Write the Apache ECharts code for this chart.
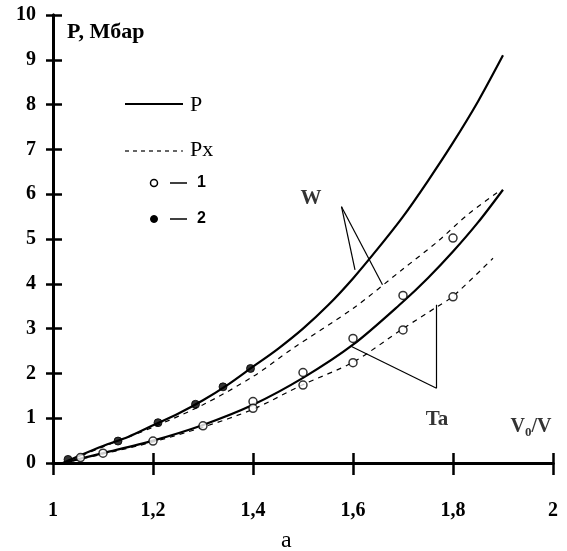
<!DOCTYPE html>
<html>
<head>
<meta charset="utf-8">
<script src="https://cdn.jsdelivr.net/npm/echarts@6/dist/echarts.min.js"></script>
<style>
  html, body { margin: 0; padding: 0; background: #fff; }
  #chart { width: 567px; height: 551px; }
</style>
</head>
<body>
<div id="chart"></div>
<script>
// Pressure P (Mbar) versus compression V0/V for W and Ta
const xTicks = [1, 1.2, 1.4, 1.6, 1.8, 2];
const yTicks = [0, 1, 2, 3, 4, 5, 6, 7, 8, 9, 10];

// W: total pressure P (solid) and cold pressure Px (dashed)
const wP  = [[1.02,0],[1.05,0.15],[1.1,0.38],[1.15,0.58],[1.2,0.84],[1.25,1.1],[1.3,1.4],[1.35,1.75],[1.4,2.15],[1.45,2.55],[1.5,3.0],[1.55,3.52],[1.6,4.12],[1.65,4.79],[1.7,5.5],[1.75,6.3],[1.8,7.15],[1.85,8.07],[1.9,9.1]];
const wPx = [[1.02,0],[1.1,0.36],[1.2,0.8],[1.3,1.3],[1.4,1.93],[1.48,2.56],[1.6,3.45],[1.7,4.33],[1.77,4.95],[1.83,5.55],[1.89,6.05]];
// Ta: total pressure P (solid) and cold pressure Px (dashed)
const taP  = [[1.02,0],[1.1,0.22],[1.2,0.5],[1.3,0.85],[1.4,1.3],[1.5,1.9],[1.6,2.64],[1.7,3.6],[1.75,4.13],[1.8,4.72],[1.85,5.37],[1.9,6.1]];
const taPx = [[1.02,0],[1.1,0.2],[1.2,0.47],[1.3,0.8],[1.4,1.2],[1.5,1.75],[1.6,2.25],[1.7,3.0],[1.77,3.5],[1.8,3.72],[1.88,4.57]];

// Experimental points: 1 (open), 2 (filled)
const points1 = [[1.055,0.12],[1.1,0.22],[1.2,0.49],[1.3,0.83],[1.4,1.37],[1.4,1.22],[1.5,2.02],[1.5,1.74],[1.6,2.78],[1.6,2.24],[1.7,3.74],[1.7,2.97],[1.8,5.02],[1.8,3.71]];
const points2 = [[1.03,0.08],[1.13,0.49],[1.21,0.9],[1.285,1.31],[1.34,1.7],[1.395,2.11]];

// Leader lines from the material labels to their curves
const wLeaders  = [[[1.577,5.72],[1.604,4.31]], [[1.577,5.72],[1.659,3.98]]];
const taLeaders = [[[1.767,1.67],[1.597,2.6]], [[1.767,1.67],[1.767,3.53]]];

// Text labels placed in data space
const curveLabels = [
  { name: 'W',  value: [1.516, 5.9] },
  { name: 'Ta', value: [1.768, 0.98] }
];
const axisName = { value: [1.956, 0.8] };

const serif = '"Liberation Serif", "DejaVu Serif", serif';
const sans = '"Liberation Sans", Arial, sans-serif';

const chart = echarts.init(document.getElementById('chart'), null, { renderer: 'canvas' });

const tickLine = { color: '#000', width: 2.5 };

function leaderSeries(seg) {
  return {
    type: 'line', data: seg, symbol: 'none', silent: true,
    lineStyle: { color: '#000', width: 1.2 }, z: 3
  };
}

function legendText(text, x, y, font) {
  return { type: 'text', x: x, y: y,
    style: { text: text, fill: '#000', font: font, textVerticalAlign: 'middle', verticalAlign: 'middle' } };
}

const option = {
  animation: false,
  backgroundColor: '#fff',
  grid: { left: 53, right: 14, top: 15, bottom: 88, containLabel: false },
  xAxis: [
    {
      type: 'value', min: 1, max: 2, interval: 0.2,
      axisLine: { show: true, onZero: false, lineStyle: { color: '#000', width: 3 } },
      axisTick: { show: true, inside: true, length: 10, lineStyle: tickLine },
      splitLine: { show: false },
      axisLabel: {
        margin: 38, color: '#000', fontFamily: serif, fontWeight: 'bold', fontSize: 20,
        formatter: v => xTicks.includes(+v.toFixed(1)) ? String(+v.toFixed(1)).replace('.', ',') : ''
      }
    },
    {
      type: 'value', min: 1, max: 2, interval: 0.2, position: 'bottom',
      axisLine: { show: true, onZero: false, lineStyle: { color: '#000', width: 3 } },
      axisTick: { show: true, inside: false, length: 12, lineStyle: tickLine },
      axisLabel: { show: false }, splitLine: { show: false }
    }
  ],
  yAxis: [
    {
      type: 'value', min: 0, max: 10, interval: 1,
      axisLine: { show: true, onZero: false, lineStyle: { color: '#000', width: 3 } },
      axisTick: { show: true, inside: true, length: 9, lineStyle: tickLine },
      splitLine: { show: false },
      axisLabel: {
        margin: 17, color: '#000', fontFamily: serif, fontWeight: 'bold', fontSize: 20,
        formatter: v => yTicks.includes(v) ? String(v) : ''
      }
    },
    {
      type: 'value', min: 0, max: 10, interval: 1, position: 'left',
      axisLine: { show: true, onZero: false, lineStyle: { color: '#000', width: 3 } },
      axisTick: { show: true, inside: false, length: 7, lineStyle: tickLine },
      axisLabel: { show: false }, splitLine: { show: false }
    }
  ],
  series: [
    { name: 'W P', type: 'line', data: wP, smooth: 0.3, symbol: 'none',
      lineStyle: { color: '#000', width: 2.2 }, z: 4 },
    { name: 'W Px', type: 'line', data: wPx, smooth: 0.3, symbol: 'none',
      lineStyle: { color: '#000', width: 1.2, type: [5, 5] }, z: 4 },
    { name: 'Ta P', type: 'line', data: taP, smooth: 0.3, symbol: 'none',
      lineStyle: { color: '#000', width: 2.2 }, z: 4 },
    { name: 'Ta Px', type: 'line', data: taPx, smooth: 0.3, symbol: 'none',
      lineStyle: { color: '#000', width: 1.2, type: [5, 5] }, z: 4 },
    leaderSeries(wLeaders[0]), leaderSeries(wLeaders[1]),
    leaderSeries(taLeaders[0]), leaderSeries(taLeaders[1]),
    { name: '1', type: 'scatter', data: points1, symbol: 'circle', symbolSize: 8,
      itemStyle: { color: '#fff', borderColor: '#000', borderWidth: 1.5 }, z: 6 },
    { name: '2', type: 'scatter', data: points2, symbol: 'circle', symbolSize: 8,
      itemStyle: { color: '#000', borderColor: '#000', borderWidth: 1 }, z: 6 },
    { type: 'scatter', data: curveLabels, symbolSize: 0, silent: true, z: 7,
      label: { show: true, position: 'inside', formatter: p => p.name, color: '#000',
        fontFamily: serif, fontWeight: 'bold', fontSize: 21 } },
    { type: 'scatter', data: [axisName], symbolSize: 0, silent: true, z: 7,
      label: { show: true, position: 'inside', color: '#000',
        formatter: '{v|V}{s|0}{v|/V}',
        rich: {
          v: { fontFamily: serif, fontWeight: 'bold', fontSize: 20, color: '#000' },
          s: { fontFamily: serif, fontWeight: 'bold', fontSize: 13, color: '#000', padding: [10, 0, 0, 0] }
        } } }
  ],
  graphic: [
    { type: 'text', left: 67, top: 21, style: { text: 'P, Мбар', fill: '#000',
      font: 'bold 22px ' + serif } },
    // legend keys
    { type: 'line', shape: { x1: 125, y1: 104, x2: 183, y2: 104 },
      style: { stroke: '#000', lineWidth: 2.2 } },
    legendText('P', 190, 105, '22px ' + serif),
    { type: 'line', shape: { x1: 125, y1: 151, x2: 183, y2: 151 },
      style: { stroke: '#000', lineWidth: 1.2, lineDash: [4, 4] } },
    legendText('Px', 190, 150, '22px ' + serif),
    { type: 'circle', shape: { cx: 154, cy: 183, r: 3.5 },
      style: { fill: '#fff', stroke: '#000', lineWidth: 1.5 } },
    { type: 'line', shape: { x1: 170, y1: 183, x2: 187, y2: 183 },
      style: { stroke: '#000', lineWidth: 1.5 } },
    legendText('1', 197, 183, 'bold 16px ' + sans),
    { type: 'circle', shape: { cx: 154, cy: 219, r: 3.5 },
      style: { fill: '#000', stroke: '#000', lineWidth: 1 } },
    { type: 'line', shape: { x1: 170, y1: 219, x2: 187, y2: 219 },
      style: { stroke: '#000', lineWidth: 1.5 } },
    legendText('2', 197, 219, 'bold 16px ' + sans),
    { type: 'text', left: 281, top: 529, style: { text: 'а', fill: '#000', font: '24px ' + serif } }
  ]
};

chart.setOption(option);
</script>
</body>
</html>
